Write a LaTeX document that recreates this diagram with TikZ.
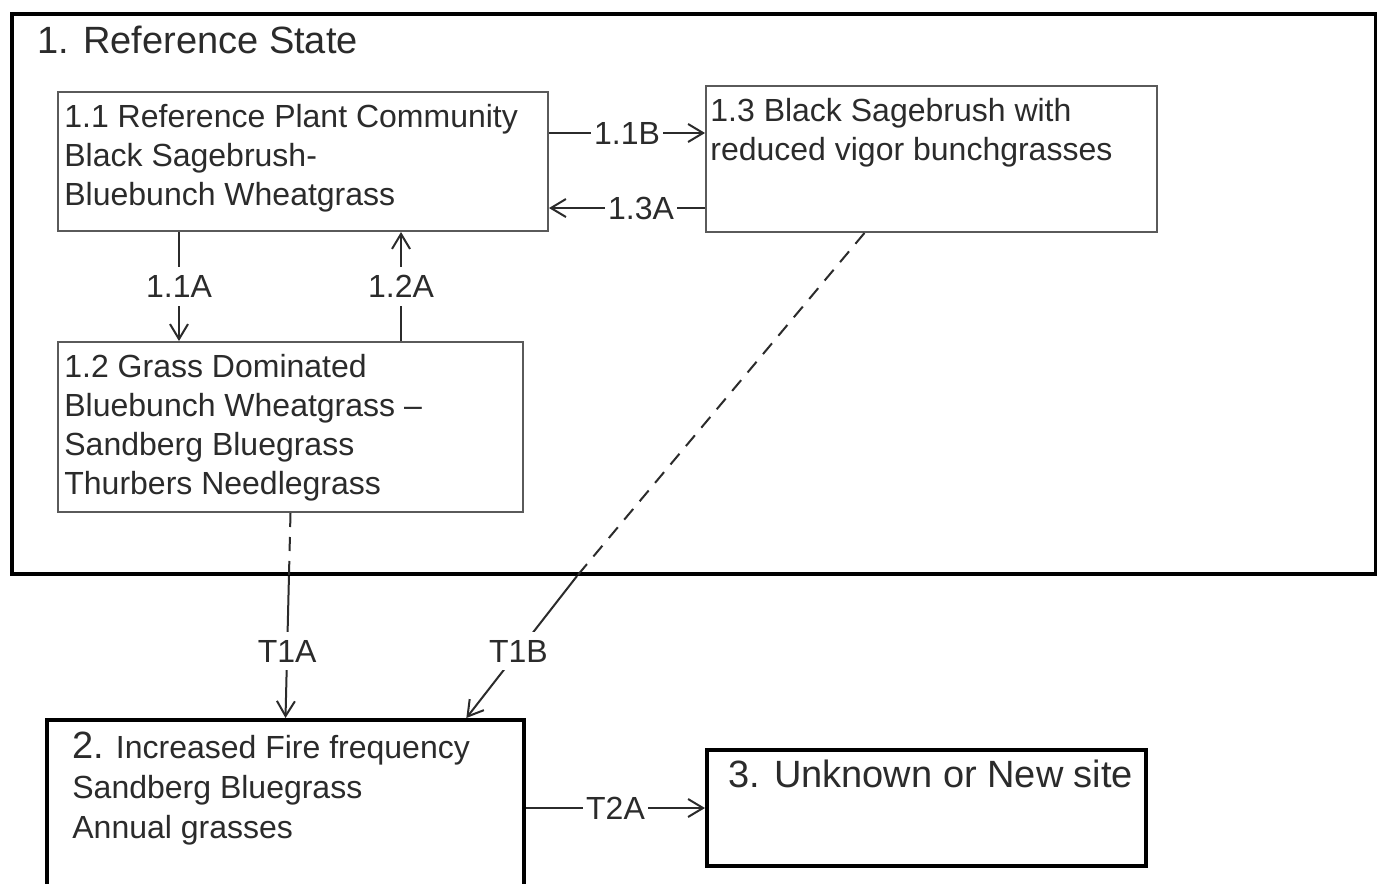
\documentclass[tikz,border=0pt]{standalone}
\usepackage{fontspec}
\setmainfont{Liberation Sans}
\usetikzlibrary{arrows.meta,calc}
\definecolor{ink}{HTML}{2B2B2B}
\definecolor{thinbox}{HTML}{5A5A5A}
\begin{document}
\begin{tikzpicture}[x=0.5pt,y=-0.5pt,
  thinbox/.style={draw=thinbox, line width=1pt, inner sep=0pt, anchor=north west},
  thickbox/.style={draw=black, line width=2pt, inner sep=0pt, anchor=north west},
  txt/.style={anchor=base west, inner sep=0pt, text=ink, font=\fontsize{16}{19.5}\selectfont},
  bigtxt/.style={anchor=base west, inner sep=0pt, text=ink, font=\fontsize{19}{22}\selectfont},
  conn/.style={draw=ink, line width=1pt},
  arr/.style={conn, -{Straight Barb[length=7.5pt,width=9pt]}},
  dashline/.style={conn, dash pattern=on 7pt off 5pt},
  lab/.style={fill=white, inner xsep=1.5pt, inner ysep=4pt, text=ink, font=\fontsize{16}{19.5}\selectfont}
]
\useasboundingbox (0,0) rectangle (1377,884);
\fill[white] (0,0) rectangle (1377,884);

% boxes
\node[thickbox, minimum width=682pt, minimum height=280pt] (ref) at (10,12) {};
\node[thinbox, minimum width=245pt, minimum height=69.5pt] (n11) at (57,91) {};
\node[thinbox, minimum width=225.5pt, minimum height=73pt] (n13) at (705,85) {};
\node[thinbox, minimum width=232.5pt, minimum height=85pt] (n12) at (57,341) {};
\node[thickbox, minimum width=238.5pt, minimum height=116pt] (n2) at (45,718) {};
\node[thickbox, minimum width=219.5pt, minimum height=58pt] (n3) at (705,748) {};

% texts
\node[bigtxt] (tref) at (37,53) {1. Reference State};
\node[txt] (t11) at (64,127) {\begin{tabular}[t]{@{}l@{}}1.1 Reference Plant Community\\Black Sagebrush-\\Bluebunch Wheatgrass\end{tabular}};
\node[txt] (t13) at (710,121) {\begin{tabular}[t]{@{}l@{}}1.3 Black Sagebrush with\\reduced vigor bunchgrasses\end{tabular}};
\node[txt] (t12) at (64,377) {\begin{tabular}[t]{@{}l@{}}1.2 Grass Dominated\\Bluebunch Wheatgrass --\\Sandberg Bluegrass\\Thurbers Needlegrass\end{tabular}};
\node[txt, font=\fontsize{16}{20}\selectfont] (t2) at (72,758) {\begin{tabular}[t]{@{}l@{}}{\fontsize{19}{20}\selectfont 2.} Increased Fire frequency\\Sandberg Bluegrass\\Annual grasses\end{tabular}};
\node[bigtxt] (t3) at (728,787) {3. Unknown or New site};

% connectors inside reference state
\coordinate (a11B) at ($(n11.north east)+(0,42)$);
\draw[arr] (a11B) -- node[lab]{1.1B} (a11B -| n13.west);
\coordinate (a13A) at ($(n11.north east)+(0,117)$);
\draw[arr] (a13A -| n13.west) -- node[lab, pos=0.41]{1.3A} (a13A);
\coordinate (a11A) at ($(n11.south west)+(122,0)$);
\draw[arr] (a11A) -- node[lab]{1.1A} (a11A |- n12.north);
\coordinate (a12A) at ($(n12.north west)+(344,0)$);
\draw[arr] (a12A) -- node[lab]{1.2A} (a12A |- n11.south);

% transitions
\coordinate (m1) at (intersection of n12.south--n2.north and ref.south west--ref.south east);
\draw[dashline] (n12.south) -- (m1);
\draw[arr] (m1) -- node[lab, pos=0.53]{T1A} (n2.north);

\coordinate (s13) at ($(n13.south west)!0.352!(n13.south east)$);
\coordinate (e2) at ($(n2.north west)!0.876!(n2.north east)$);
\coordinate (m2) at ($(ref.south west)+(567,0)$);
\draw[dashline] (s13) -- (m2);
\draw[arr] (m2) -- node[lab, pos=0.53]{T1B} (e2);

\draw[arr] (n3.west -| n2.east) -- node[lab]{T2A} (n3.west);
\end{tikzpicture}
\end{document}
